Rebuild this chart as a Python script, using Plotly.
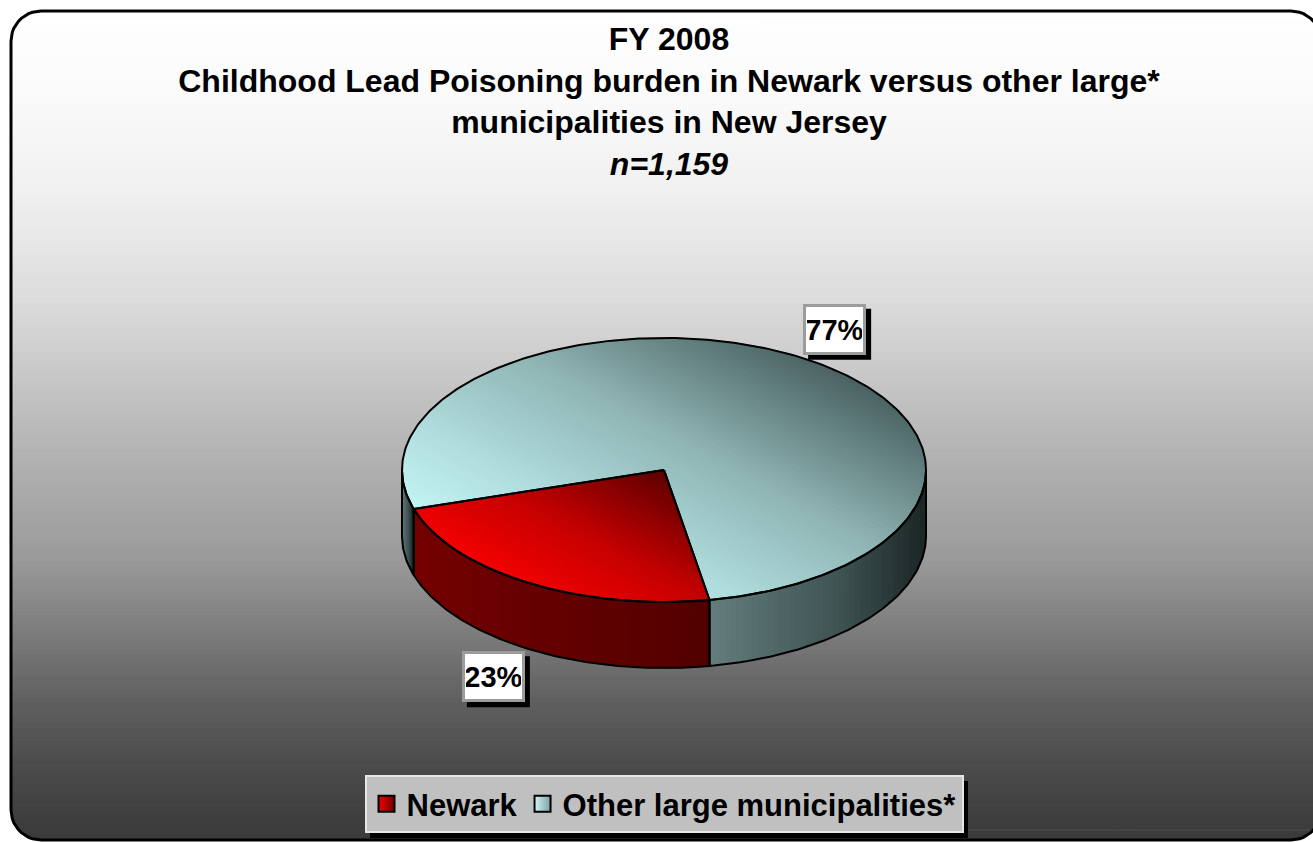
import numpy as np
import plotly.graph_objects as go

# ---------------- data ----------------
categories = ["Newark", "Other large municipalities*"]
shares = [23, 77]            # percent of all cases
n_total = 1159
title_lines = [
    "FY 2008",
    "Childhood Lead Poisoning burden in Newark versus other large*",
    "municipalities in New Jersey",
]

# ---------------- style ----------------
W, H = 1313, 842
CX, CY, RX, RY, DEPTH = 664, 470, 262, 132, 66
START_ANGLE = 280          # math degrees, slices run clockwise
LABEL_R = 1.25
LBL_W, LBL_H = 63, 51      # label box size in px (incl. border)
FONT = "Liberation Sans, Arial, sans-serif"

top_stops = [
    [(0.0, "#f40000"), (0.23, "#c40000"), (0.5, "#5c0000"), (1.0, "#300000")],
    [(0.0, "#c8f8f8"), (0.25, "#b2e0e0"), (0.6, "#90b4b4"), (1.0, "#4a6262")],
]
wall_stops = [
    [(0.0, "#740000"), (1.0, "#520000")],
    [(0.0, "#647d7d"), (0.6, "#3f5353"), (1.0, "#1c2626")],
]
legend_colors = [("#f00000", "#700000"), ("#d0f6f6", "#7fa0a0")]
bg_stops_y = [(11, "#ffffff"), (100, "#fafafa"), (200, "#efefef"), (300, "#dcdcdc"),
              (450, "#b4b4b4"), (560, "#9a9a9a"), (700, "#606060"), (770, "#4a4a4a"),
              (840, "#3a3a3a")]


def hex2rgb(h):
    h = h.lstrip("#")
    return np.array([int(h[i:i + 2], 16) for i in (0, 2, 4)], dtype=float)


def color_at(stops, f):
    f = min(max(f, 0.0), 1.0)
    for (p0, c0), (p1, c1) in zip(stops[:-1], stops[1:]):
        if f <= p1:
            u = 0 if p1 == p0 else (f - p0) / (p1 - p0)
            c = hex2rgb(c0) * (1 - u) + hex2rgb(c1) * u
            return "rgb(%d,%d,%d)" % tuple(np.round(c))
    c = hex2rgb(stops[-1][1])
    return "rgb(%d,%d,%d)" % tuple(np.round(c))


def clip_half(poly, d, t, keep_ge):
    out = []
    n = len(poly)
    for i in range(n):
        P = poly[i]
        Q = poly[(i + 1) % n]
        pp = P[0] * d[0] + P[1] * d[1] - t
        pq = Q[0] * d[0] + Q[1] * d[1] - t
        if not keep_ge:
            pp, pq = -pp, -pq
        if pp >= 0:
            out.append(P)
        if (pp >= 0) != (pq >= 0):
            s = pp / (pp - pq)
            out.append((P[0] + s * (Q[0] - P[0]), P[1] + s * (Q[1] - P[1])))
    return out


def gradient_traces(poly, d, t0, t1, stops, nstrips):
    d = np.array(d, dtype=float)
    d = d / np.linalg.norm(d)
    traces = []
    edges = np.linspace(t0, t1, nstrips + 1)
    for k in range(nstrips):
        a, b = edges[k], edges[k + 1]
        if k == 0:
            a = -1e9
        if k == nstrips - 1:
            b = 1e9
        piece = clip_half(poly, d, a, True)
        if len(piece) < 3:
            continue
        piece = clip_half(piece, d, b, False)
        if len(piece) < 3:
            continue
        col = color_at(stops, (k + 0.5) / nstrips)
        xs = [p[0] for p in piece] + [piece[0][0]]
        ys = [p[1] for p in piece] + [piece[0][1]]
        traces.append(go.Scatter(x=xs, y=ys, mode="lines", fill="toself",
                                 fillcolor=col, line=dict(color=col, width=1),
                                 hoverinfo="skip", showlegend=False))
    return traces


def outline(poly, width=2, closed=True):
    pts = list(poly) + ([poly[0]] if closed else [])
    return go.Scatter(x=[p[0] for p in pts], y=[p[1] for p in pts], mode="lines",
                      line=dict(color="black", width=width),
                      hoverinfo="skip", showlegend=False)


def ell(a, r=1.0, dz=0.0):
    ar = np.radians(a)
    return (CX + r * RX * np.cos(ar), CY - r * RY * np.sin(ar) + dz)


def arc(a_from, a_to, dz=0.0):
    n = max(int(abs(a_to - a_from)) + 2, 3)
    return [ell(a, 1.0, dz) for a in np.linspace(a_from, a_to, n)]


fig = go.Figure()

# ---- background rounded panel with vertical gradient (right side runs off the page) ----
L, R, T, B, RAD = 11, 1321, 11, 840, 30
panel = []
for (cx, cy, a0) in [(R - RAD, T + RAD, 90), (L + RAD, T + RAD, 180),
                     (L + RAD, B - RAD, 270), (R - RAD, B - RAD, 360)]:
    for a in np.linspace(a0 - 90, a0, 12):
        ar = np.radians(a)
        panel.append((cx + RAD * np.cos(ar), cy - RAD * np.sin(ar)))
bg_t0, bg_t1 = bg_stops_y[0][0], bg_stops_y[-1][0]
bg_stops = [((y - bg_t0) / (bg_t1 - bg_t0), c) for y, c in bg_stops_y]
for tr in gradient_traces(panel, (0, 1), bg_t0, bg_t1, bg_stops, 170):
    fig.add_trace(tr)
fig.add_trace(outline(panel, width=3, closed=False))

# ---- slice angles from the data ----
fr = np.array(shares, dtype=float) / np.sum(shares)
bounds = []
a = START_ANGLE
for f in fr:
    bounds.append((a, a - 360 * f))   # (hi, lo) clockwise
    a = a - 360 * f

# ---- side walls (front half only) ----
walls = []
for i, (hi, lo) in enumerate(bounds):
    for k in range(-2, 3):
        w_lo = max(lo, 180 + 360 * k)
        w_hi = min(hi, 360 + 360 * k)
        if w_hi - w_lo > 0.05:
            poly = arc(w_lo, w_hi) + arc(w_hi, w_lo, DEPTH)
            walls.append((i, poly))
for i, poly in walls:
    xs = [p[0] for p in poly]
    for tr in gradient_traces(poly, (1, 0), min(xs), max(xs), wall_stops[i], 40):
        fig.add_trace(tr)

# ---- top faces with diagonal gradient ----
dvec = np.array([0.48, -0.88])
dvec = dvec / np.linalg.norm(dvec)
tc = CX * dvec[0] + CY * dvec[1]
amp = np.hypot(RX * dvec[0], RY * dvec[1])
faces = []
for i, (hi, lo) in enumerate(bounds):
    faces.append((i, [(CX, CY)] + arc(hi, lo)))
for i, poly in sorted(faces, key=lambda p: -shares[p[0]]):
    for tr in gradient_traces(poly, dvec, tc - amp, tc + amp, top_stops[i], 70):
        fig.add_trace(tr)

for i, poly in walls:
    fig.add_trace(outline(poly))
for i, poly in faces:
    fig.add_trace(outline(poly))

# ---- data labels (white boxes with drop shadow) ----
annotations = []
shapes = []
for i, (hi, lo) in enumerate(bounds):
    mid = (hi + lo) / 2
    x, y = ell(mid, LABEL_R)
    if np.sin(np.radians(mid)) < 0:
        y += DEPTH
    shapes.append(dict(type="rect", xref="x", yref="y",
                       x0=x - LBL_W / 2 + 5, x1=x + LBL_W / 2 + 5,
                       y0=y - LBL_H / 2 + 5, y1=y + LBL_H / 2 + 5,
                       fillcolor="black", line=dict(width=0), layer="above"))
    annotations.append(dict(x=x, y=y, xref="x", yref="y",
                            text="<b>%d%%</b>" % shares[i], showarrow=False,
                            width=LBL_W - 8, height=LBL_H - 8, borderpad=1, borderwidth=3,
                            bgcolor="white", bordercolor="#9c9c9c",
                            font=dict(family=FONT, size=29, color="black")))

# ---- legend entries ----
for i, name in enumerate(categories):
    c0, c1 = legend_colors[i]
    fig.add_trace(go.Scatter(x=[None], y=[None], mode="markers", name=name,
                             marker=dict(symbol="square", size=16, color=c0,
                                         gradient=dict(type="horizontal", color=c1),
                                         line=dict(color="black", width=2))))

# legend drop shadow
shapes.append(dict(type="rect", xref="x", yref="y", x0=370, x1=968, y0=781, y1=838,
                   fillcolor="black", line=dict(width=0), layer="above"))

title_text = "<b>" + "<br>".join(title_lines) + "<br><i>n=%s</i></b>" % format(n_total, ",")

fig.update_layout(
    width=W, height=H,
    margin=dict(l=0, r=0, t=0, b=0),
    paper_bgcolor="white", plot_bgcolor="white",
    title=dict(text=title_text, x=669 / W, xanchor="center", y=1 - 50 / H, yanchor="top",
               font=dict(family=FONT, size=32, color="black")),
    xaxis=dict(range=[0, W], visible=False, fixedrange=True),
    yaxis=dict(range=[H, 0], visible=False, fixedrange=True),
    showlegend=True,
    legend=dict(orientation="h", x=664 / W, xanchor="center", y=(H - 833) / H,
                yanchor="bottom", bgcolor="#c0c0c0", bordercolor="#e6e6e6", borderwidth=2,
                font=dict(family=FONT, size=31, color="black", weight="bold"),
                itemsizing="trace", traceorder="normal"),
    annotations=annotations,
    shapes=shapes,
)

fig.write_html("out.html", config={"displayModeBar": False},
               post_script="document.body.style.margin='0';document.body.style.overflow='hidden';")
